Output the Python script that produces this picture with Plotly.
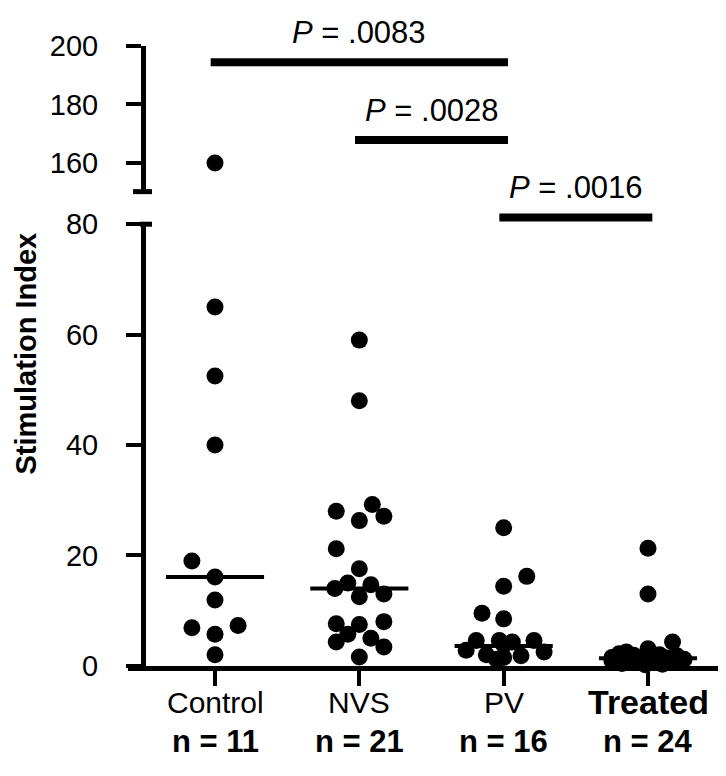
import plotly.graph_objects as go

# screenshot geometry (page body has an 8px margin)
OFF = 8
W, H = 710, 760

categories = ["Control", "NVS", "PV", "Treated"]
n_labels = ["n = 11", "n = 21", "n = 16", "n = 24"]

control_vals = [160, 65, 52.5, 40, 19.0, 16.1, 11.9, 7.3, 6.9, 5.7, 2.0]
control_off = [0, 0, 0, 0, -0.16, 0, 0, 0.16, -0.16, 0, 0]

nvs_vals = [59, 48, 29.2, 28.0, 27.1, 26.3, 21.2, 17.6, 15.0, 14.7, 14.0, 13.0, 12.5,
            8.0, 7.6, 7.5, 5.7, 5.0, 4.3, 3.4, 1.6]
nvs_off = [0, 0, 0.09, -0.16, 0.17, 0, -0.16, 0, -0.08, 0.08, -0.17, 0.17, 0,
           0.17, -0.16, 0, -0.08, 0.08, -0.16, 0.17, 0]

pv_vals = [25.0, 16.2, 14.4, 9.5, 8.5, 4.6, 4.6, 4.3, 4.6, 3.8, 2.8, 2.5, 2.0, 1.8, 1.5, 1.2]
pv_off = [0, 0.16, 0, -0.15, 0, -0.19, -0.03, 0.06, 0.21, 0, -0.26, 0.28, -0.12, 0.12, 0.0, -0.05]

treated_vals = [21.3, 13.0, 4.3, 3.1, 2.5, 2.2, 2.0, 1.9, 1.8, 1.6, 1.5, 1.4, 1.3, 1.2,
                1.1, 1.0, 0.9, 0.8, 0.7, 0.6, 0.5, 0.4, 0.3, 0.2]
treated_off = [0, 0, 0.17, 0, -0.15, -0.2, 0.08, -0.1, 0.2, 0.0, -0.25, 0.13, -0.05, 0.25,
               -0.15, 0.05, -0.25, 0.15, -0.08, 0.22, 0.0, -0.18, 0.1, -0.02]

medians = [16.1, 14.0, 3.6, 1.35]

p_pairs = [(0, 2), (1, 2), (2, 3)]
p_texts = ["<i>P</i> = .0083", "<i>P</i> = .0028", "<i>P</i> = .0016"]
p_line_px = [48, 129, 210]

groups = [(control_vals, control_off), (nvs_vals, nvs_off), (pv_vals, pv_off), (treated_vals, treated_off)]

BREAK = 100


def px(x):
    return (x - OFF) / W


def py(y):
    return 1 - (y - OFF) / H


# pixel geometry (screenshot coordinates)
x_left_px, x_right_px = 128, 718
yaxis_px = 143
cat0_px, cat3_px = 215, 648
unit = (cat3_px - cat0_px) / 3
r0 = -(cat0_px - x_left_px) / unit
r1 = r0 + (x_right_px - x_left_px) / unit

low_dom = [py(678), py(217)]
up_dom = [py(183), py(31)]
up_ppu = (153 - 31) / 40
up_bottom = 160 - (183 - 153) / up_ppu

fig = go.Figure()
FONT = "Liberation Sans, Arial, sans-serif"

for i, (vals, offs) in enumerate(groups):
    lo_x = [i + o for v, o in zip(vals, offs) if v < BREAK]
    lo_y = [v for v in vals if v < BREAK]
    hi_x = [i + o for v, o in zip(vals, offs) if v >= BREAK]
    hi_y = [v for v in vals if v >= BREAK]
    fig.add_trace(go.Scatter(x=lo_x, y=lo_y, mode="markers", cliponaxis=False,
                             marker=dict(size=17, color="black"), showlegend=False,
                             xaxis="x", yaxis="y"))
    if hi_y:
        fig.add_trace(go.Scatter(x=hi_x, y=hi_y, mode="markers", cliponaxis=False,
                                 marker=dict(size=17, color="black"), showlegend=False,
                                 xaxis="x", yaxis="y2"))
    fig.add_trace(go.Scatter(x=[i - 0.34, i + 0.34], y=[medians[i], medians[i]], mode="lines",
                             cliponaxis=False, line=dict(color="black", width=4),
                             showlegend=False, xaxis="x", yaxis="y"))

shapes = []
annotations = []
for (a, b), txt, ypx in zip(p_pairs, p_texts, p_line_px):
    shapes.append(dict(type="line", xref="x", yref="paper", x0=a - 0.03, x1=b + 0.03,
                       y0=py(ypx), y1=py(ypx), line=dict(color="black", width=8)))
    annotations.append(dict(xref="x", yref="paper", x=(a + b) / 2, y=py(ypx - 31),
                            text=txt, showarrow=False, yanchor="middle",
                            font=dict(family=FONT, size=31, color="black")))

# axis break caps
shapes.append(dict(type="line", xref="paper", yref="paper", x0=px(133), x1=px(152),
                   y0=up_dom[0], y1=up_dom[0], line=dict(color="black", width=5)))
shapes.append(dict(type="line", xref="paper", yref="paper", x0=px(140), x1=px(152),
                   y0=low_dom[1], y1=low_dom[1], line=dict(color="black", width=5)))

for i, (c, n) in enumerate(zip(categories, n_labels)):
    if c == "Treated":
        txt, size = "<b>" + c + "</b>", 34
    else:
        txt, size = c, 30
    annotations.append(dict(xref="x", yref="paper", x=i, y=py(716), text=txt, showarrow=False,
                            yanchor="middle", font=dict(family=FONT, size=size, color="black")))
    annotations.append(dict(xref="x", yref="paper", x=i, y=py(757), text="<b>" + n + "</b>",
                            showarrow=False, yanchor="middle",
                            font=dict(family=FONT, size=31, color="black")))

annotations.append(dict(xref="paper", yref="paper", x=0, y=py(352), text="<b>Stimulation Index</b>",
                        textangle=-90, showarrow=False, xanchor="left", yanchor="middle",
                        font=dict(family=FONT, size=29, color="black")))

axis_common = dict(showgrid=False, zeroline=False, showline=True, linecolor="black", linewidth=5,
                   ticks="outside", ticklen=15, tickwidth=4, tickcolor="black",
                   tickfont=dict(family=FONT, size=29, color="black"))

fig.update_layout(
    width=W, height=H, margin=dict(l=0, r=0, t=0, b=0),
    paper_bgcolor="white", plot_bgcolor="rgba(0,0,0,0)",
    xaxis=dict(domain=[px(x_left_px), px(x_right_px)], range=[r0, r1], anchor="y",
               tickvals=[0, 1, 2, 3], showticklabels=False, **axis_common),
    yaxis=dict(domain=low_dom, range=[0, 80], anchor="free", position=px(yaxis_px),
               tickvals=[0, 20, 40, 60, 80], ticklabelstandoff=22, **axis_common),
    yaxis2=dict(domain=up_dom, range=[up_bottom, 200], anchor="free", position=px(yaxis_px),
                tickvals=[160, 180, 200], ticklabelstandoff=22, **axis_common),
    shapes=shapes, annotations=annotations,
)

fig.write_html("out.html")
